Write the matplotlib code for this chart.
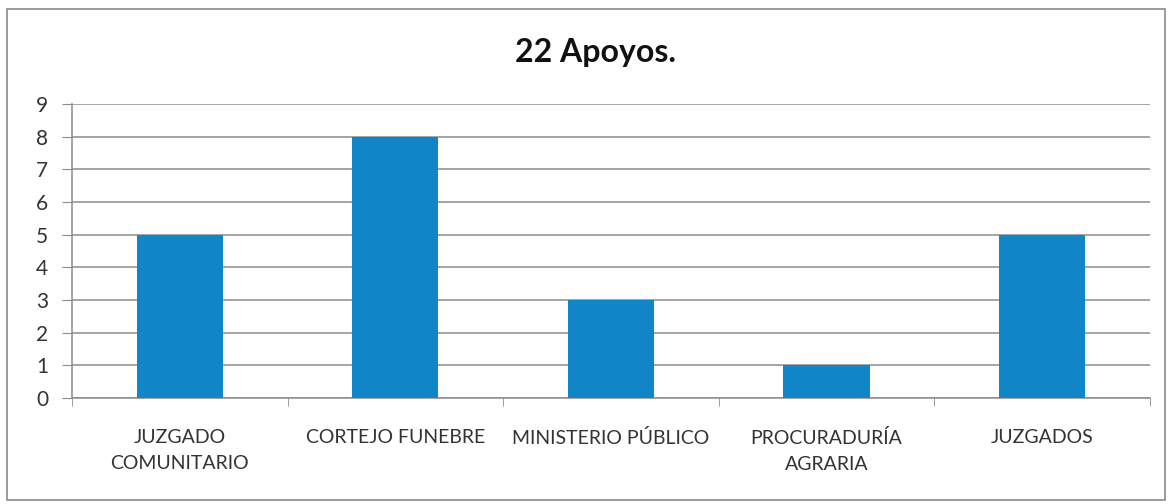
import matplotlib.pyplot as plt
import numpy as np
from matplotlib.patches import Rectangle

categorias = ['JUZGADO\nCOMUNITARIO', 'CORTEJO FUNEBRE', 'MINISTERIO PÚBLICO',
              'PROCURADURÍA\nAGRARIA', 'JUZGADOS']
apoyos = [5, 8, 3, 1, 5]
titulo = '22 Apoyos.'

plt.rcParams['font.family'] = ['Lato', 'DejaVu Sans']

fig = plt.figure(figsize=(11.72, 5.04), dpi=100)
fig.patches.append(Rectangle((0.006, 0.008), 0.988, 0.975, transform=fig.transFigure,
                             fill=False, edgecolor='#8a8a8a', linewidth=1.2))
ax = fig.add_axes([0.0614, 0.2103, 0.9196, 0.5834])

x = np.arange(len(categorias))
ax.bar(x, apoyos, width=0.4, color='#1086c8', zorder=3)

ax.set_xlim(-0.5, len(categorias) - 0.5)
ax.set_ylim(0, 9)
ax.set_yticks(range(0, 10))
ax.yaxis.grid(True, color='#8c8c8c', linewidth=1.1, zorder=0)

ax.set_xticks(x)
ax.set_xticklabels(categorias, fontsize=14, color='#333333', linespacing=1.65)
ax.set_xticks(np.arange(-0.5, len(categorias)), minor=True)
ax.tick_params(axis='x', which='major', length=0, pad=22)
ax.tick_params(axis='x', which='minor', length=6, color='#8c8c8c', direction='out')
ax.tick_params(axis='y', length=7, color='#8c8c8c', labelsize=15, labelcolor='#333333', pad=10)

for s in ['top', 'right']:
    ax.spines[s].set_visible(False)
for s in ['left', 'bottom']:
    ax.spines[s].set_color('#8c8c8c')
    ax.spines[s].set_linewidth(1.1)

fig.text(0.508, 0.895, titulo, ha='center', va='center', fontsize=23,
         fontweight='bold', color='#111111')

fig.savefig('out.png', dpi=100)
